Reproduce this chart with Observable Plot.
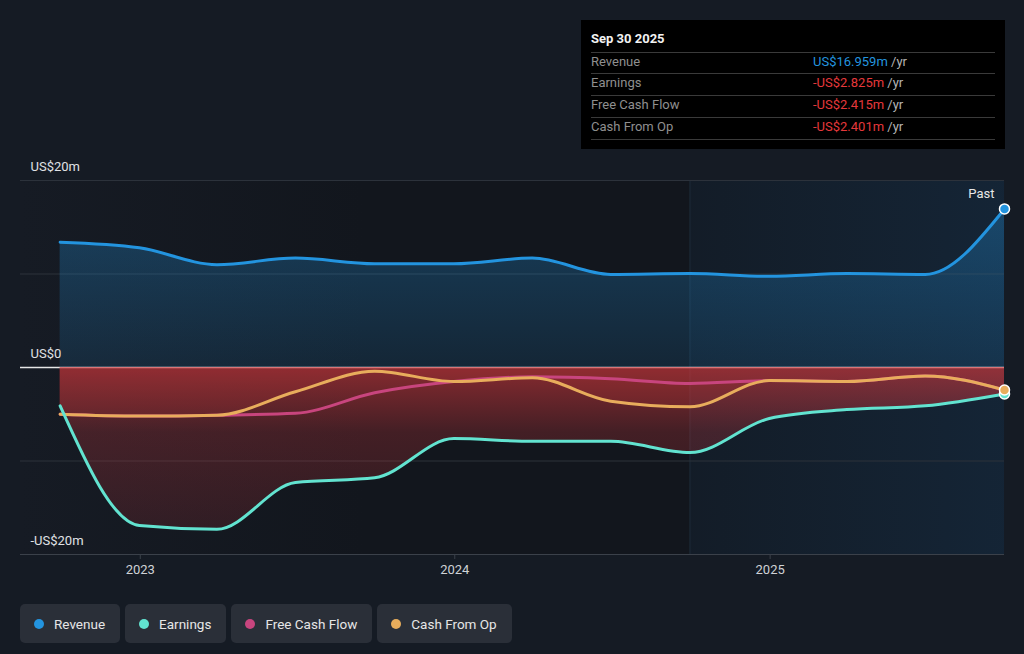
<!DOCTYPE html>
<html><head><meta charset="utf-8">
<script src="https://cdn.jsdelivr.net/npm/d3@7"></script>
<script src="https://cdn.jsdelivr.net/npm/@observablehq/plot@0.6"></script>
<style>
html,body{margin:0;padding:0;background:#151b24;font-family:Roboto,"Noto Sans",sans-serif;}
#wrap{position:relative;width:1024px;height:654px;overflow:hidden;}
#wrap svg{position:absolute;left:0;top:0;}
.tip{position:absolute;left:581px;top:20px;width:424px;height:129px;background:#000;}
.tip .title{position:absolute;left:10px;top:11px;font-size:13px;font-weight:700;color:#f2f2f2;}
.tip .sep{position:absolute;left:10px;width:404px;height:1px;background:#3a3a3a;}
.tip .row{position:absolute;left:10px;font-size:13px;color:#8f8f8f;line-height:16px;}
.tip .val{position:absolute;left:232px;font-size:13px;line-height:16px;}
.tip .val span{color:#b5b5b5;}
.legend{position:absolute;top:604px;left:20px;height:39px;display:flex;gap:5px;}
.item{height:39px;background:#2a2f38;border-radius:5px;display:flex;align-items:center;padding:0 15px 0 14px;font-size:13.5px;color:#e6e6e6;}
.dot{width:10px;height:10px;border-radius:50%;margin-right:10px;}
</style></head><body><div id="wrap"></div>
<script>
const dates = ["2022-09-30","2022-12-31","2023-03-31","2023-06-30","2023-09-30","2023-12-31","2024-03-31","2024-06-30","2024-09-30","2024-12-31","2025-03-31","2025-06-30","2025-09-30"];
const revenue = [13.4, 12.8, 11.0, 11.7, 11.1, 11.1, 11.7, 9.95, 10.05, 9.75, 10.05, 9.95, 16.959];
const earnings = [-4.1, -16.9, -17.3, -12.3, -11.8, -7.6, -7.9, -7.9, -9.1, -5.45, -4.5, -4.1, -2.825];
const freeCashFlow = [-5.0, -5.2, -5.1, -4.9, -2.7, -1.5, -1.0, -1.2, -1.7, -1.4, -1.5, -0.9, -2.415];
const cashFromOp = [-5.0, -5.2, -5.1, -2.6, -0.4, -1.5, -1.1, -3.6, -4.2, -1.4, -1.5, -0.9, -2.401];
const seriesNames = ["Revenue", "Earnings", "Free Cash Flow", "Cash From Op"];
const seriesColors = ["#2394df", "#62e3d0", "#c8457e", "#e8ad5c"];
const yTicks = [-20, -10, 0, 10, 20];
const yLabels = [{v: 20, t: "US$20m"}, {v: 0, t: "US$0"}, {v: -20, t: "-US$20m"}];
const xTicks = ["2023-01-01", "2024-01-01", "2025-01-01"];
const xStart = "2022-08-15";
const pastStart = "2024-09-30";
const tipDate = "Sep 30 2025";
const tipValues = ["US$16.959m", "-US$2.825m", "-US$2.415m", "-US$2.401m"];

const D = s => new Date(s + "T00:00:00Z");
const data = dates.map((d, i) => ({date: D(d), revenue: revenue[i], earnings: earnings[i], fcf: freeCashFlow[i], cfo: cashFromOp[i]}));
const last = data[data.length - 1];
const x0 = D(xStart), x1 = D(dates[dates.length - 1]);

const lineOpts = (key, color) => ({x: "date", y: key, stroke: color, strokeWidth: 3, curve: "monotone-x"});

const chart = Plot.plot({
  width: 1024, height: 654,
  marginLeft: 20, marginRight: 20, marginTop: 180, marginBottom: 100,
  x: {type: "utc", domain: [x0, x1]},
  y: {domain: [-20, 20], axis: null},
  style: {background: "transparent", color: "#cfd2d6", fontFamily: "Roboto, 'Noto Sans', sans-serif", fontSize: "13px"},
  marks: [
    Plot.rect([0], {x1: () => x0, x2: () => x1, y1: () => -20, y2: () => 20, fill: "url(#bgGrad)"}),
    Plot.rect([0], {x1: () => D(pastStart), x2: () => x1, y1: () => -20, y2: () => 20, fill: "url(#pastGrad)"}),
    Plot.ruleX([D(pastStart)], {y1: -20, y2: 20, stroke: "#1e2b38", strokeWidth: 1}),
    Plot.ruleY(yTicks.filter(v => v !== 0 && v !== -20), {stroke: "#2c323b", strokeWidth: 1}),
    Plot.ruleY([-20], {stroke: "#3b414a", strokeWidth: 1}),
    Plot.ruleY([0], {stroke: "#e6e6e6", strokeWidth: 1.5}),
    Plot.areaY(data, {x: "date", y1: () => 0, y2: "revenue", fill: "url(#revGrad)", curve: "monotone-x"}),
    Plot.areaY(data, {x: "date", y1: () => 0, y2: "earnings", fill: "url(#negGrad)", curve: "monotone-x"}),
    Plot.areaY(data, {x: "date", y1: () => 0, y2: "cfo", fill: "#d6383c", fillOpacity: 0.12, curve: "monotone-x"}),
    Plot.lineY(data, lineOpts("fcf", seriesColors[2])),
    Plot.lineY(data, lineOpts("cfo", seriesColors[3])),
    Plot.lineY(data, lineOpts("earnings", seriesColors[1])),
    Plot.lineY(data, lineOpts("revenue", seriesColors[0])),
    Plot.dot([last], {x: "date", y: "earnings", r: 5, fill: seriesColors[1], stroke: "#fff", strokeWidth: 1.5}),
    Plot.dot([last], {x: "date", y: "cfo", r: 5, fill: seriesColors[3], stroke: "#fff", strokeWidth: 1.5}),
    Plot.dot([last], {x: "date", y: "revenue", r: 5, fill: seriesColors[0], stroke: "#fff", strokeWidth: 1.5}),
    Plot.text(yLabels, {x: () => x0, y: "v", text: "t", textAnchor: "start", dx: 10, dy: -14, fill: "#e0e2e5", fontSize: 13}),
    Plot.text(["Past"], {frameAnchor: "top-right", dx: -10, dy: 8, fill: "#e8e8e8", fontSize: 13}),
    Plot.axisX(xTicks.map(D), {tickFormat: "%Y", tickSize: 5, tickPadding: 5, stroke: "#3b414a", color: "#cfd2d6", fontSize: 13, label: null})
  ]
});

const ys = chart.scale("y");
const yZero = ys.apply(0), yBottom = ys.apply(-20), yTop = ys.apply(20);
d3.select(chart).insert("defs", ":first-child").html(`
  <linearGradient id="bgGrad" x1="0" y1="0" x2="1" y2="0">
    <stop offset="0" stop-color="#161b24"/>
    <stop offset="0.35" stop-color="#12161d"/>
    <stop offset="1" stop-color="#12161d"/>
  </linearGradient>
  <linearGradient id="pastGrad" x1="0" y1="0" x2="1" y2="0">
    <stop offset="0" stop-color="#1a4a75" stop-opacity="0.12"/>
    <stop offset="1" stop-color="#1a4a75" stop-opacity="0.28"/>
  </linearGradient>
  <linearGradient id="revGrad" gradientUnits="userSpaceOnUse" x1="0" y1="${yTop}" x2="0" y2="${yZero}">
    <stop offset="0" stop-color="#2394df" stop-opacity="0.35"/>
    <stop offset="1" stop-color="#2394df" stop-opacity="0.13"/>
  </linearGradient>
  <linearGradient id="negGrad" gradientUnits="userSpaceOnUse" x1="0" y1="${yZero}" x2="0" y2="${yBottom}">
    <stop offset="0" stop-color="#d6383c" stop-opacity="0.6"/>
    <stop offset="0.35" stop-color="#d6383c" stop-opacity="0.25"/>
    <stop offset="1" stop-color="#d6383c" stop-opacity="0.12"/>
  </linearGradient>`);

const wrap = document.getElementById("wrap");
wrap.appendChild(chart);

// tooltip
const tip = document.createElement("div");
tip.className = "tip";
let html = `<div class="title">${tipDate}</div>`;
const sepY = [32, 53, 75, 97, 119];
sepY.forEach(y => html += `<div class="sep" style="top:${y}px"></div>`);
seriesNames.forEach((n, i) => {
  const top = sepY[i] + 2;
  const col = tipValues[i].startsWith("-") ? "#e5383b" : "#2394df";
  html += `<div class="row" style="top:${top}px">${n}</div>`;
  html += `<div class="val" style="top:${top}px;color:${col}">${tipValues[i]} <span>/yr</span></div>`;
});
tip.innerHTML = html;
wrap.appendChild(tip);

// legend
const leg = document.createElement("div");
leg.className = "legend";
seriesNames.forEach((n, i) => {
  const it = document.createElement("div");
  it.className = "item";
  it.innerHTML = `<div class="dot" style="background:${seriesColors[i]}"></div>${n}`;
  leg.appendChild(it);
});
wrap.appendChild(leg);
</script></body></html>
